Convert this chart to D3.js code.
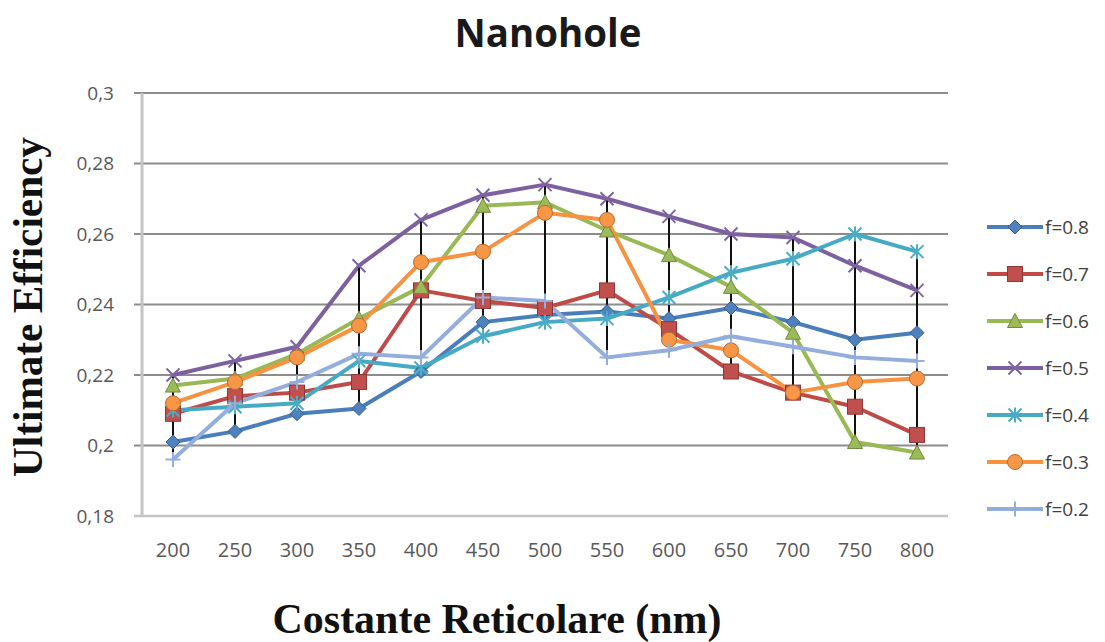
<!DOCTYPE html>
<html>
<head>
<meta charset="utf-8">
<script src="https://cdn.jsdelivr.net/npm/d3@7/dist/d3.min.js"></script>
<style>
  html, body { margin: 0; padding: 0; background: #ffffff; }
  svg { display: block; }
</style>
</head>
<body>
<svg id="chart" width="1105" height="642"></svg>
<script>
// ---- Data ----
const categories = [200, 250, 300, 350, 400, 450, 500, 550, 600, 650, 700, 750, 800];
const yTicks = [0.18, 0.2, 0.22, 0.24, 0.26, 0.28, 0.3];
const yTickLabels = ["0,18", "0,2", "0,22", "0,24", "0,26", "0,28", "0,3"];
const seriesNames = ["f=0.8", "f=0.7", "f=0.6", "f=0.5", "f=0.4", "f=0.3", "f=0.2"];
const f08 = [0.201, 0.204, 0.209, 0.2105, 0.221, 0.235, 0.237, 0.238, 0.236, 0.239, 0.235, 0.230, 0.232];
const f07 = [0.209, 0.214, 0.215, 0.218, 0.244, 0.241, 0.239, 0.244, 0.233, 0.221, 0.215, 0.211, 0.203];
const f06 = [0.217, 0.219, 0.226, 0.236, 0.245, 0.268, 0.269, 0.261, 0.254, 0.245, 0.232, 0.201, 0.198];
const f05 = [0.220, 0.224, 0.228, 0.251, 0.264, 0.271, 0.274, 0.270, 0.265, 0.260, 0.259, 0.251, 0.244];
const f04 = [0.210, 0.211, 0.212, 0.224, 0.222, 0.231, 0.235, 0.236, 0.242, 0.249, 0.253, 0.260, 0.255];
const f03 = [0.212, 0.218, 0.225, 0.234, 0.252, 0.255, 0.266, 0.264, 0.230, 0.227, 0.215, 0.218, 0.219];
const f02 = [0.196, 0.212, 0.218, 0.226, 0.225, 0.242, 0.241, 0.225, 0.227, 0.231, 0.228, 0.225, 0.224];
const seriesValues = [f08, f07, f06, f05, f04, f03, f02];

// ---- Styles ----
const lineColors   = ["#4A7EBB", "#BE4B48", "#98B954", "#7D60A0", "#46AAC5", "#F69240", "#93AEDC"];
const markerFill   = ["#4F81BD", "#C0504D", "#9BBB59", "#8064A2", "#4BACC6", "#F79646", "#93AEDC"];
const markerStroke = ["#385D8A", "#8C3836", "#71893F", "#5C4776", "#357D91", "#B66D31", "#6F8CC0"];
const markerTypes  = ["diamond", "square", "triangle", "x", "star", "circle", "plus"];

const svg = d3.select("#chart");
const plotLeft = 142, plotRight = 948, plotTop = 93, plotBottom = 516;

const x = d3.scaleBand().domain(categories).range([plotLeft, plotRight]).padding(0);
const y = d3.scaleLinear().domain([0.18, 0.3]).range([plotBottom, plotTop]);
const cx = d => x(d) + x.bandwidth() / 2;

// fit text helper
function fit(sel, target) {
  const node = sel.node();
  const fs = parseFloat(sel.style("font-size"));
  const len = node.getComputedTextLength();
  if (len > 0) sel.style("font-size", (fs * target / len).toFixed(2) + "px");
}

// ---- Gridlines ----
svg.append("g").selectAll("line")
  .data(yTicks.filter(t => t > 0.18))
  .join("line")
  .attr("x1", plotLeft - 8).attr("x2", plotRight)
  .attr("y1", d => y(d)).attr("y2", d => y(d))
  .attr("stroke", "#8c8c8c").attr("stroke-width", 2);

// bottom axis line
svg.append("line")
  .attr("x1", plotLeft - 8).attr("x2", plotRight)
  .attr("y1", y(0.18)).attr("y2", y(0.18))
  .attr("stroke", "#c4c4c4").attr("stroke-width", 2.5);

// y axis via d3.axisLeft
const yAxis = d3.axisLeft(y).tickValues(yTicks)
  .tickFormat((d, i) => yTickLabels[i]).tickSize(0).tickPadding(28);
const yg = svg.append("g").attr("transform", `translate(${plotLeft},0)`).call(yAxis);
yg.select(".domain").remove();
yg.selectAll("text")
  .attr("fill", "#595959")
  .style("font-family", "'Open Sans', 'DejaVu Sans', sans-serif")
  .style("font-size", "19px");
svg.append("line")
  .attr("x1", plotLeft).attr("x2", plotLeft)
  .attr("y1", plotTop).attr("y2", plotBottom + 1)
  .attr("stroke", "#c4c4c4").attr("stroke-width", 3);

// x axis labels via d3.axisBottom
const xAxis = d3.axisBottom(x).tickSize(0).tickPadding(27);
const xg = svg.append("g").attr("transform", `translate(0,${plotBottom})`).call(xAxis);
xg.select(".domain").remove();
xg.selectAll("text")
  .attr("fill", "#595959")
  .style("font-family", "'Open Sans', 'DejaVu Sans', sans-serif")
  .style("font-size", "20px");

// ---- Series lines ----
const line = d3.line().x((d, i) => cx(categories[i])).y(d => y(d));
svg.append("g").selectAll("path")
  .data(seriesValues)
  .join("path")
  .attr("d", d => line(d))
  .attr("fill", "none")
  .attr("stroke", (d, i) => lineColors[i])
  .attr("stroke-width", 4)
  .attr("stroke-linejoin", "round");

// ---- High-low lines ----
const hiLow = categories.map((c, i) => {
  const vals = seriesValues.map(s => s[i]);
  return { c, hi: d3.max(vals), lo: d3.min(vals) };
});
svg.append("g").selectAll("line")
  .data(hiLow)
  .join("line")
  .attr("x1", d => cx(d.c)).attr("x2", d => cx(d.c))
  .attr("y1", d => y(d.hi)).attr("y2", d => y(d.lo))
  .attr("stroke", "#111111").attr("stroke-width", 2);

// ---- Markers ----
function drawMarker(g, type, px, py, k) {
  const fill = markerFill[k], stroke = markerStroke[k];
  switch (type) {
    case "diamond":
      g.append("path").attr("d", `M${px},${py-7}L${px+7},${py}L${px},${py+7}L${px-7},${py}Z`)
        .attr("fill", fill).attr("stroke", stroke).attr("stroke-width", 1); break;
    case "square":
      g.append("rect").attr("x", px-7.5).attr("y", py-7.5).attr("width", 15).attr("height", 15)
        .attr("fill", fill).attr("stroke", stroke).attr("stroke-width", 1); break;
    case "triangle":
      g.append("path").attr("d", `M${px},${py-7.5}L${px+7.5},${py+6.5}L${px-7.5},${py+6.5}Z`)
        .attr("fill", fill).attr("stroke", stroke).attr("stroke-width", 1); break;
    case "circle":
      g.append("circle").attr("cx", px).attr("cy", py).attr("r", 7.5)
        .attr("fill", fill).attr("stroke", stroke).attr("stroke-width", 1); break;
    case "x":
      g.append("path").attr("d", `M${px-6.5},${py-6.5}L${px+6.5},${py+6.5}M${px-6.5},${py+6.5}L${px+6.5},${py-6.5}`)
        .attr("stroke", fill).attr("stroke-width", 2).attr("fill", "none"); break;
    case "star":
      g.append("path").attr("d", `M${px-6.5},${py-6.5}L${px+6.5},${py+6.5}M${px-6.5},${py+6.5}L${px+6.5},${py-6.5}M${px},${py-7.5}L${px},${py+7.5}`)
        .attr("stroke", fill).attr("stroke-width", 2).attr("fill", "none"); break;
    case "plus":
      g.append("path").attr("d", `M${px},${py-7.5}L${px},${py+7.5}M${px-7.5},${py}L${px+7.5},${py}`)
        .attr("stroke", fill).attr("stroke-width", 2).attr("fill", "none"); break;
  }
}
const mg = svg.append("g");
seriesValues.forEach((s, k) => {
  s.forEach((v, i) => drawMarker(mg, markerTypes[k], cx(categories[i]), y(v), k));
});

// ---- Legend ----
const legendTop = 227, legendStep = 47;
const lg = svg.append("g");
seriesNames.forEach((name, k) => {
  const ly = legendTop + k * legendStep;
  lg.append("line").attr("x1", 987).attr("x2", 1043).attr("y1", ly).attr("y2", ly)
    .attr("stroke", lineColors[k]).attr("stroke-width", 4);
  drawMarker(lg, markerTypes[k], 1015, ly, k);
  lg.append("text").attr("x", 1045).attr("y", ly).attr("dy", "0.35em")
    .attr("fill", "#404040")
    .style("font-family", "'Open Sans', 'DejaVu Sans', sans-serif")
    .style("font-size", "19px")
    .text(name);
});

// ---- Titles ----
const title = svg.append("text").attr("x", 548).attr("y", 47).attr("text-anchor", "middle")
  .attr("fill", "#1a1a1a")
  .style("font-family", "'Open Sans', 'DejaVu Sans', sans-serif")
  .style("font-weight", "bold").style("font-size", "34px")
  .text("Nanohole");
fit(title, 187);

const yTitle = svg.append("text")
  .attr("transform", `translate(42,307) rotate(-90)`)
  .attr("text-anchor", "middle")
  .attr("fill", "#111111")
  .style("font-family", "'Liberation Serif', 'Times New Roman', serif")
  .style("font-weight", "bold").style("font-size", "32px")
  .text("Ultimate Efficiency");
fit(yTitle, 340);

const xTitle = svg.append("text").attr("x", 497).attr("y", 633).attr("text-anchor", "middle")
  .attr("fill", "#111111")
  .style("font-family", "'Liberation Serif', 'Times New Roman', serif")
  .style("font-weight", "bold").style("font-size", "38px")
  .text("Costante Reticolare (nm)");
fit(xTitle, 449);
</script>
</body>
</html>
